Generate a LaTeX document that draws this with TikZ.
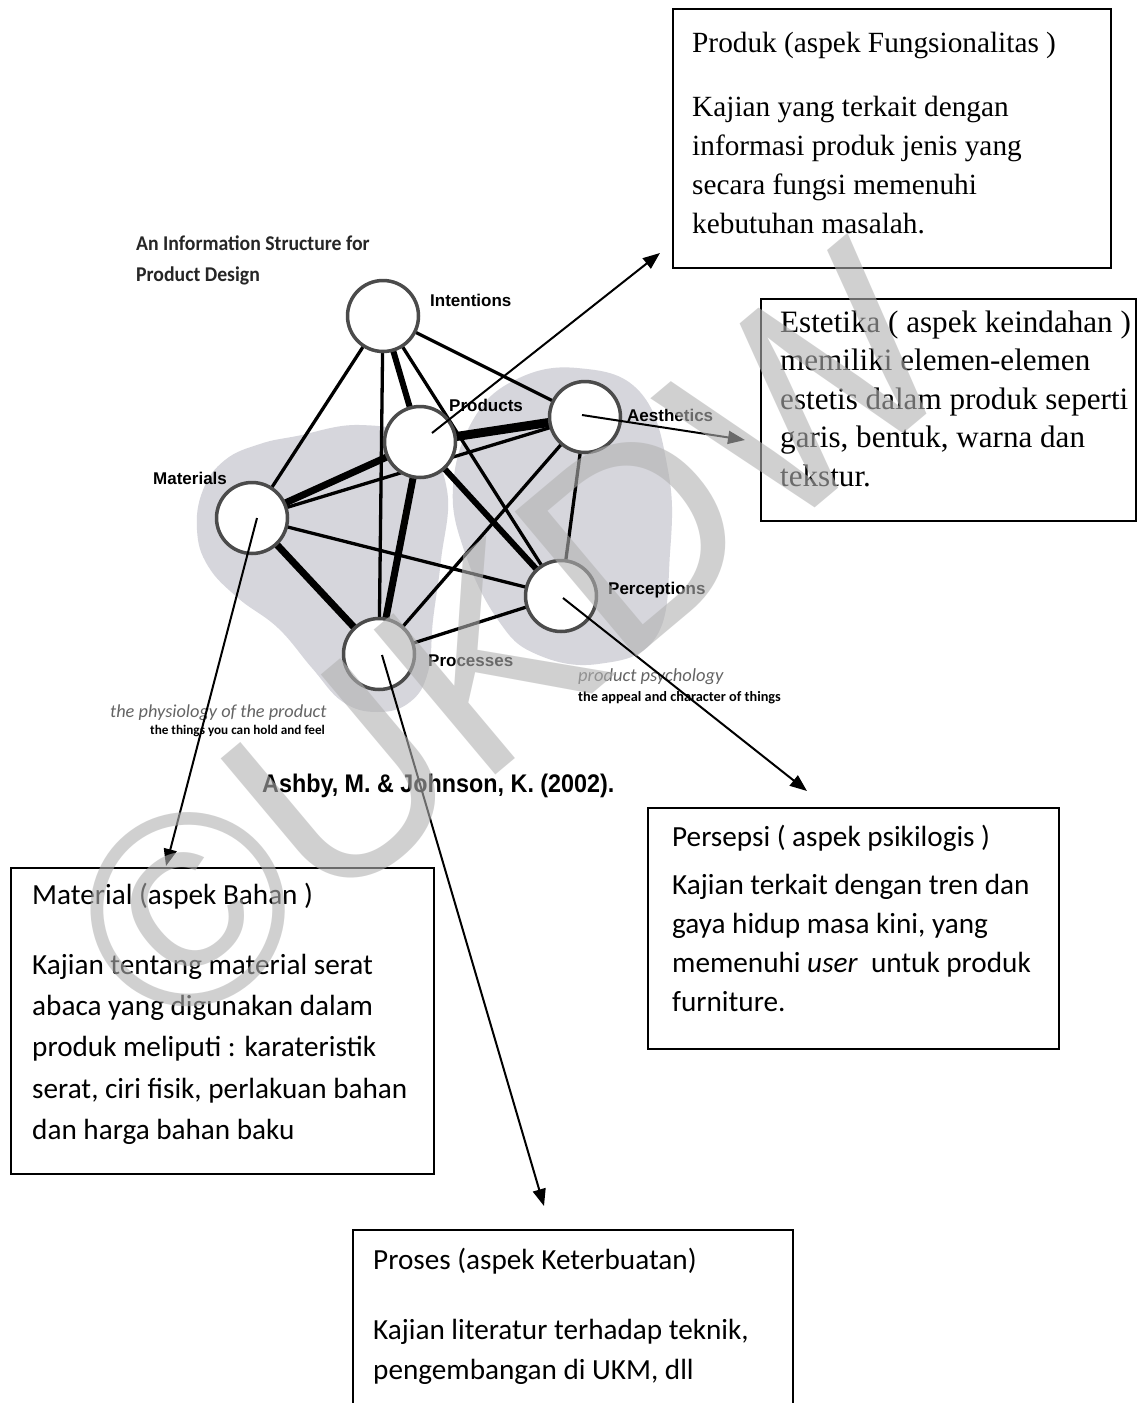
\documentclass[tikz,border=0pt]{standalone}
\usepackage{fontspec}
\setmainfont{Liberation Serif}
\newfontfamily\tnrfont{Liberation Serif}
\newfontfamily\calfont{Carlito}
\newfontfamily\arialfont{Liberation Sans}
\usetikzlibrary{arrows.meta}
\definecolor{blobgray}{RGB}{214,214,220}
\definecolor{ringgray}{RGB}{75,75,75}
\definecolor{capgray}{RGB}{100,100,100}
\pgfdeclarelayer{bg}
\pgfdeclarelayer{wm}
\pgfsetlayers{bg,main,wm}
\begin{document}
\begin{tikzpicture}[x=1pt,y=-1pt,
  box/.style={draw=black, line width=1.6pt, inner sep=0pt, anchor=north west},
  serifline/.style={anchor=base west, inner sep=0pt, font=\tnrfont\fontsize{29.3}{35}\selectfont},
  bigserifline/.style={anchor=base west, inner sep=0pt, font=\tnrfont\fontsize{31.1}{36}\selectfont},
  calline/.style={anchor=base west, inner sep=0pt, font=\calfont\fontsize{29.2}{35}\selectfont},
  circ/.style={circle, draw=ringgray, line width=3.5pt, fill=white, minimum size=71pt, inner sep=0pt},
  lab/.style={anchor=base west, inner sep=0pt, font=\arialfont\bfseries\fontsize{17}{19}\selectfont},
  medge/.style={line width=3.3pt},
  tedge/.style={line width=7pt},
  callout/.style={line width=2pt, -{Triangle[length=17pt,width=13pt]}}
]
\useasboundingbox (0,0) rectangle (1137,1403);

% ---------- circles (nodes of the structure) ----------
\node[circ] (I)  at (383,316) {};
\node[circ] (Pd) at (420,442) {};
\node[circ] (A)  at (585,417) {};
\node[circ] (M)  at (252,518) {};
\node[circ] (Pc) at (561,596) {};
\node[circ] (Ps) at (379,654) {};

\begin{pgfonlayer}{bg}
  \fill[white] (0,0) rectangle (1137,1403);
  % blobs
  \fill[blobgray] plot[smooth cycle, tension=0.7] coordinates {
    (297,436) (360,425) (420,440) (447,490) (441,560) (433,620) (428,672)
    (410,702) (378,712) (343,702) (312,668) (278,628) (238,598) (208,566)
    (197,530) (203,490) (225,460) (260,444)};
  \fill[blobgray] plot[smooth cycle, tension=0.7] coordinates {
    (515,380) (577,368) (640,392) (668,470) (670,553) (656,637) (598,664)
    (536,654) (498,620) (465,553) (453,487) (473,420)};
  % edges
  \draw[medge] (I.center) -- (M.center);
  \draw[medge] (I.center) -- (Ps.center);
  \draw[tedge, line width=6pt] (I.center) -- (Pd.center);
  \draw[medge] (I.center) -- (Pc.center);
  \draw[medge] (I.center) -- (A.center);
  \draw[tedge, line width=9pt] (Pd.center) -- (A.center);
  \draw[tedge] (Pd.center) -- (M.center);
  \draw[tedge] (Pd.center) -- (Ps.center);
  \draw[tedge, line width=6pt] (Pd.center) -- (Pc.center);
  \draw[medge] (M.center) -- (A.center);
  \draw[tedge] (M.center) -- (Ps.center);
  \draw[medge] (M.center) -- (Pc.center);
  \draw[medge] (A.center) -- (Ps.center);
  \draw[medge] (A.center) -- (Pc.center);
  \draw[medge] (Pc.center) -- (Ps.center);
  % labels
  \node[lab] (lI)  at (430,306) {Intentions};
  \node[lab] (lPd) at (449,411) {Products};
  \node[lab] (lA)  at (627,421) {Aesthetics};
  \node[lab] (lM)  at (153,484) {Materials};
  \node[lab] (lPc) at (608,594) {Perceptions};
  \node[lab] (lPs) at (428,666) {Processes};
\end{pgfonlayer}

% ---------- title, captions, reference ----------
\node[anchor=base west, inner sep=0pt, font=\calfont\bfseries\fontsize{21}{22}\selectfont, text=black!85] (t1) at (136,250) {\scalebox{0.94}[1]{An Information Structure for}};
\node[anchor=base west, inner sep=0pt, font=\calfont\bfseries\fontsize{21}{22}\selectfont, text=black!85] (t2) at (136,281) {\scalebox{0.94}[1]{Product Design}};
\node[anchor=base west, inner sep=0pt, font=\calfont\itshape\fontsize{18.3}{20}\selectfont, text=capgray] (c1) at (110,717) {the physiology of the product};
\node[anchor=base west, inner sep=0pt, font=\calfont\bfseries\fontsize{13.2}{15}\selectfont] (c2) at (150,734) {the things you can hold and feel};
\node[anchor=base west, inner sep=0pt, font=\calfont\itshape\fontsize{18.5}{20}\selectfont, text=capgray] (c3) at (578,681) {product psychology};
\node[anchor=base west, inner sep=0pt, font=\calfont\bfseries\fontsize{14.3}{16}\selectfont] (c4) at (578,701) {the appeal and character of things};
\node[anchor=base west, inner sep=0pt, font=\arialfont\bfseries\fontsize{25.5}{28}\selectfont] (ref) at (262,792) {\scalebox{0.915}[1]{Ashby, M. \& Johnson, K. (2002).}};

% ---------- boxes ----------
\node[box, minimum width=438pt, minimum height=259pt] (bPd) at (672,8) {};
\node[serifline] (pd0) at (692,52) {Produk (aspek Fungsionalitas )};
\node[serifline] (pd1) at (692,116) {Kajian yang terkait dengan};
\node[serifline] (pd2) at (692,155) {informasi produk jenis yang};
\node[serifline] (pd3) at (692,194) {secara fungsi memenuhi};
\node[serifline] (pd4) at (692,233) {kebutuhan masalah.};

\node[box, minimum width=375pt, minimum height=222pt] (bA) at (760,298) {};
\node[bigserifline] (a0) at (780,332) {Estetika ( aspek keindahan )};
\node[bigserifline] (a1) at (780,370.5) {memiliki elemen-elemen};
\node[bigserifline] (a2) at (780,409) {estetis dalam produk seperti};
\node[bigserifline] (a3) at (780,447.5) {garis, bentuk, warna dan};
\node[bigserifline] (a4) at (780,486) {tekstur.};

\node[box, minimum width=423pt, minimum height=306pt] (bM) at (10,867) {};
\node[calline] (m0) at (32,904) {Material (aspek Bahan )};
\node[calline] (m1) at (32,974) {Kajian tentang material serat};
\node[calline] (m2) at (32,1015) {abaca yang digunakan dalam};
\node[calline] (m3) at (32,1056.5) {produk meliputi : karateristik};
\node[calline] (m4) at (32,1098) {serat, ciri fisik, perlakuan bahan};
\node[calline] (m5) at (32,1139) {dan harga bahan baku};

\node[box, minimum width=411pt, minimum height=241pt] (bPc) at (647,807) {};
\node[calline] (p0) at (672,846) {Persepsi ( aspek psikilogis )};
\node[calline] (p1) at (672,894) {Kajian terkait dengan tren dan};
\node[calline] (p2) at (672,933) {gaya hidup masa kini, yang};
\node[calline] (p3) at (672,972) {memenuhi \textit{user}\ \ untuk produk};
\node[calline] (p4) at (672,1011) {furniture.};

\node[box, minimum width=440pt, minimum height=200pt] (bPs) at (352,1229) {};
\node[calline] (s0) at (373,1269) {Proses (aspek Keterbuatan)};
\node[calline] (s1) at (373,1339) {Kajian literatur terhadap teknik,};
\node[calline] (s2) at (373,1379) {pengembangan di UKM, dll};

% ---------- callout arrows ----------
\coordinate (tPd) at (660,253);
\coordinate (tA)  at (745,440);
\coordinate (tM)  at (166,866);
\coordinate (tPc) at (807,791);
\coordinate (tPs) at (544,1206);
\draw[callout] ([shift={(12,-9)}]Pd.center) -- (tPd);
\draw[callout] ([shift={(-3,-2)}]A.center) -- (tA);
\draw[callout] ([shift={(5,0)}]M.center) -- (tM);
\draw[callout] ([shift={(2,2)}]Pc.center) -- (tPc);
\draw[callout] ([shift={(3,1)}]Ps.center) -- (tPs);

% ---------- watermark ----------
\begin{pgfonlayer}{wm}
\node[rotate=40, inner sep=0pt, text=gray!60, opacity=0.6, font=\arialfont\fontsize{275}{275}\selectfont] (wmk) at (510,640) {©UKDW};
\end{pgfonlayer}
\end{tikzpicture}
\end{document}
